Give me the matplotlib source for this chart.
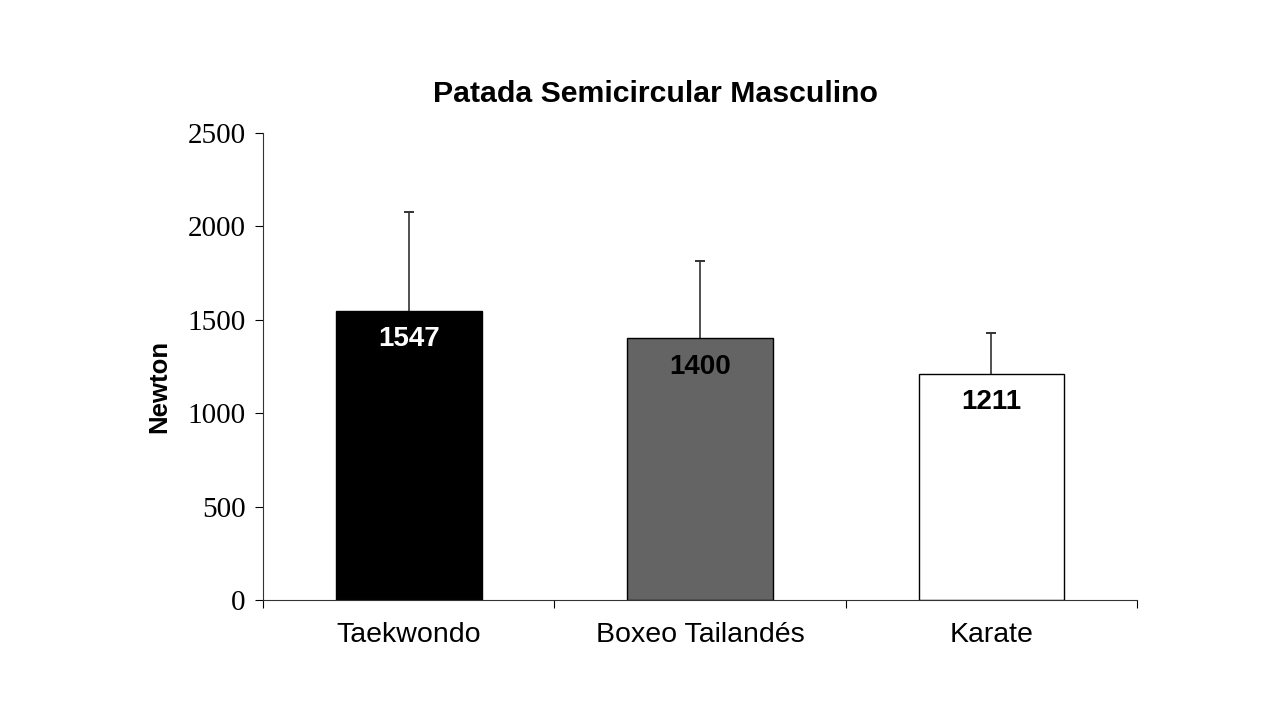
import matplotlib.pyplot as plt

categories = ['Taekwondo', 'Boxeo Tailandés', 'Karate']
means = [1547, 1400, 1211]
sd_upper = [530, 415, 218]
bar_colors = ['#000000', '#646464', '#ffffff']
label_colors = ['white', 'black', 'black']

fig = plt.figure(figsize=(12.8, 7.2), dpi=100)
ax = fig.add_axes([0.2055, 0.1667, 0.6828, 0.6486])

x = list(range(len(categories)))
ax.bar(x, means, width=0.5, color=bar_colors, edgecolor='black', linewidth=1, zorder=2)

# barras de error solo hacia arriba
tops = [m + s for m, s in zip(means, sd_upper)]
ax.vlines(x, means, tops, color='#333333', linewidth=1.2, zorder=1)
ax.plot(x, tops, linestyle='none', marker='_', markersize=7, markeredgewidth=1.4,
        color='#333333')

for xi, m, c in zip(x, means, label_colors):
    ax.annotate(str(m), (xi, m), xytext=(0, -20.5), textcoords='offset points',
                ha='center', va='center', fontsize=20, fontweight='bold',
                color=c, family='Liberation Sans', zorder=3)

ax.set_xlim(-0.5, 2.5)
ax.set_ylim(0, 2500)
ax.set_yticks([0, 500, 1000, 1500, 2000, 2500])
for lab in ax.get_yticklabels():
    lab.set_family('Liberation Serif')
    lab.set_fontsize(21)
ax.set_xticks([-0.5, 0.5, 1.5, 2.5])
ax.set_xticklabels([])
ax.set_xticks(x, minor=True)
ax.set_xticklabels(categories, minor=True, fontsize=20.5, family='Liberation Sans')
ax.tick_params(axis='x', which='minor', length=0, pad=16)
ax.tick_params(axis='x', which='major', length=6, direction='out')
ax.tick_params(axis='y', length=6, direction='out', pad=6.5)

for s in ['top', 'right']:
    ax.spines[s].set_visible(False)
for s in ['left', 'bottom']:
    ax.spines[s].set_color('#333333')

ax.set_ylabel('Newton', fontsize=18.5, fontweight='bold', family='Liberation Sans')
ax.yaxis.set_label_coords(-0.105, 0.458)
fig.text(0.512, 0.869, 'Patada Semicircular Masculino', fontsize=21.8, fontweight='bold',
         family='Liberation Sans', ha='center', va='center')

fig.savefig('out.png', dpi=100)
